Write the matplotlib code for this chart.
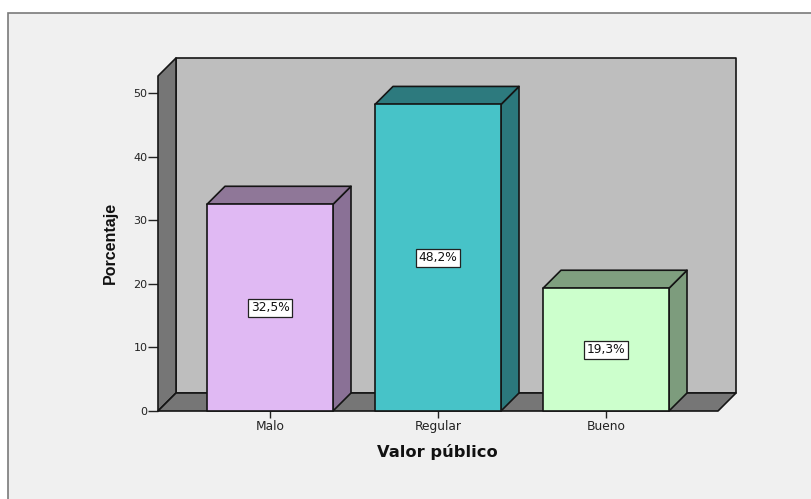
"""3D-style bar chart of Valor publico percentages."""

import matplotlib
matplotlib.use("Agg")
import matplotlib.pyplot as plt
from matplotlib.patches import Polygon, Rectangle

categories = ["Malo", "Regular", "Bueno"]
percentages = [32.5, 48.2, 19.3]
value_labels = ["32,5%", "48,2%", "19,3%"]
y_ticks = [0, 10, 20, 30, 40, 50]

front_colors = ["#E0B9F3", "#47C3C8", "#CCFFCC"]
side_colors = ["#8A7196", "#2B787C", "#7D9C7D"]
top_colors = ["#8F7798", "#2D7A7E", "#7F9F7F"]

WALL = "#BEBEBE"
SHADE = "#767676"
EDGE = "#151515"

W, H = 811, 499
plt.rcParams["font.family"] = ["DejaVu Sans"]

fig = plt.figure(figsize=(W / 100, H / 100), dpi=100, facecolor="white")

# chart frame, kept behind the axes
fig.add_artist(Rectangle((8 / W, -0.01), 810 / W, (499 - 13) / H + 0.01,
                         transform=fig.transFigure, facecolor="#F0F0F0",
                         edgecolor="#7A7A7A", linewidth=1.2, zorder=-1))

# axes box is the front face of the 3D box
left, right, base, top = 158, 718, 411, 76
ax = fig.add_axes([left / W, (H - base) / H, (right - left) / W, (base - top) / H])
ax.patch.set_visible(False)
ax.set_xlim(-2 / 3, 2 + 2 / 3)
ax.set_ylim(0, 52.67)

dx = 18 / 168
dy = 18 / 6.36
x0, x1 = ax.get_xlim()
y1 = ax.get_ylim()[1]


def face(points, color, z):
    ax.add_patch(Polygon(points, closed=True, facecolor=color, edgecolor=EDGE,
                         linewidth=1.2, clip_on=False, zorder=z, joinstyle="round"))


# back wall, left wall and floor
face([(x0 + dx, dy), (x1 + dx, dy), (x1 + dx, y1 + dy), (x0 + dx, y1 + dy)], WALL, 1)
face([(x0, 0), (x0 + dx, dy), (x0 + dx, y1 + dy), (x0, y1)], SHADE, 2)
face([(x0, 0), (x1, 0), (x1 + dx, dy), (x0 + dx, dy)], SHADE, 2)

bar_w = 0.75
for i, val in enumerate(percentages):
    l, r = i - bar_w / 2, i + bar_w / 2
    face([(r, 0), (r + dx, dy), (r + dx, val + dy), (r, val)], side_colors[i], 3)
    face([(l, val), (r, val), (r + dx, val + dy), (l + dx, val + dy)], top_colors[i], 3)
    face([(l, 0), (r, 0), (r, val), (l, val)], front_colors[i], 4)
    ax.text(i, val / 2, value_labels[i], ha="center", va="center", fontsize=8.8,
            color="#111111", zorder=5,
            bbox=dict(boxstyle="square,pad=0.2", facecolor="white",
                      edgecolor="#222222", linewidth=0.9))

for side in ["top", "right", "left", "bottom"]:
    ax.spines[side].set_visible(False)

ax.set_xticks(range(len(categories)))
ax.set_xticklabels(categories)
ax.set_yticks(y_ticks)
ax.tick_params(axis="x", labelsize=8.8, length=5, width=1.0, color="#222222",
               labelcolor="#222222", pad=1.5)
ax.tick_params(axis="y", labelsize=8, length=7, width=1.0, color="#222222",
               labelcolor="#222222", pad=0.5)

fig.text(110 / W, 1 - 243 / H, "Porcentaje", rotation=90, ha="center", va="center",
         fontsize=11.5, fontweight="bold", color="#111111", family=["Liberation Sans"])
fig.text(437.5 / W, 1 - 451.5 / H, "Valor público", ha="center", va="center",
         fontsize=11.7, fontweight="bold", color="#111111")

fig.savefig("out.png", dpi=100, facecolor=fig.get_facecolor())
